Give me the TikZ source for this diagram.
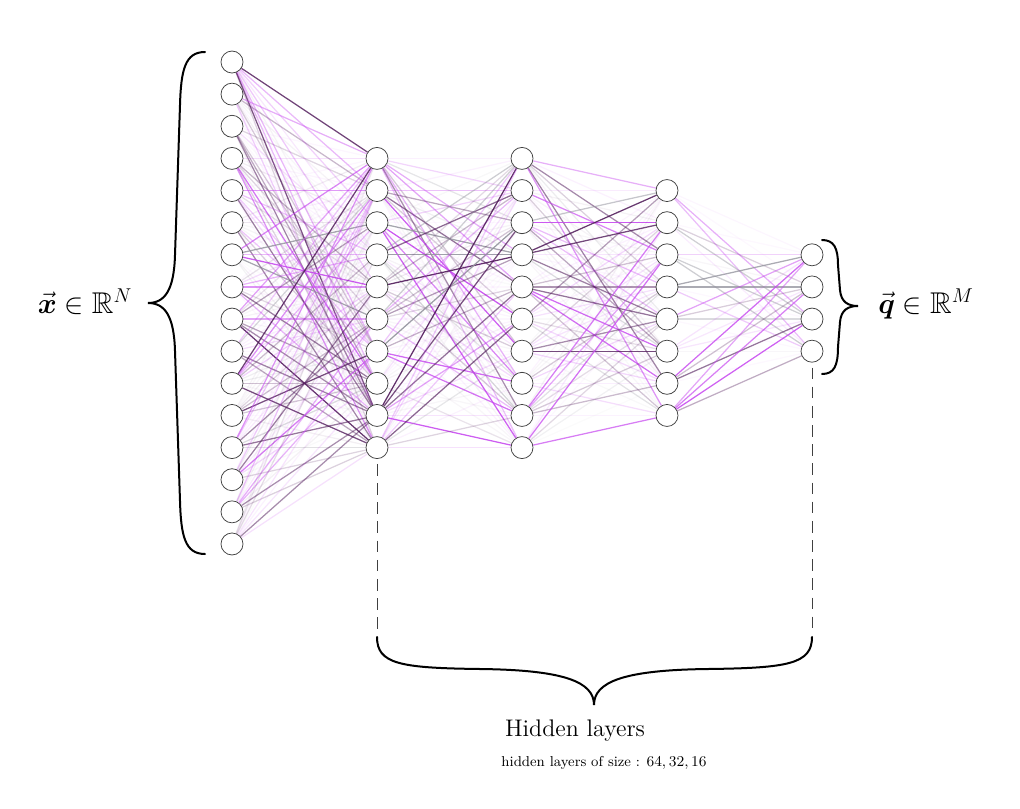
\documentclass[tikz,border=0pt]{standalone}
\usepackage{amsmath,amssymb}
\pgfdeclarelayer{bg}
\pgfsetlayers{bg,main}
\definecolor{col0}{RGB}{200,75,240}
\definecolor{col1}{RGB}{80,26,90}
\definecolor{col2}{RGB}{150,150,160}
\begin{document}
\begin{tikzpicture}[x=0.6pt,y=-0.6pt,
  neuron/.style={circle,draw=black!75,fill=white,line width=0.45pt,minimum size=13.2pt,inner sep=0pt},
  bracepath/.style={line width=1.2pt,line cap=round},
  dashline/.style={draw=black!75,line width=0.55pt,dash pattern=on 7pt off 4.5pt},
  edge/.style={line width=0.75pt}]
\useasboundingbox (0,0) rectangle (1020,809);
\def\sp{32.13}
% neurons
\foreach \l/\x/\n in {1/232/16,2/377/10,3/522/10,4/667/8,5/812/4}{
  \foreach \i in {1,...,\n}{
    \pgfmathsetmacro\yy{303+(\i-(\n+1)/2)*\sp}
    \node[neuron] (n\l-\i) at (\x,\yy) {};
  }
}
% connections
\pgfmathsetseed{11}
\begin{pgfonlayer}{bg}
\foreach \a/\na/\b/\nb in {1/16/2/10, 2/10/3/10, 3/10/4/8, 4/8/5/4}{
  \foreach \i in {1,...,\na}{
    \foreach \j in {1,...,\nb}{
      \pgfmathsetmacro\c{rnd}
      \pgfmathtruncatemacro\k{\c<0.47?0:(\c<0.85?1:2)}
      \pgfmathsetmacro\r{rnd}
      \pgfmathtruncatemacro\pct{4+90*\r*\r*sqrt(\r)}
      \draw[edge,draw=col\k,draw opacity=\pct/100] (n\a-\i) -- (n\b-\j);
    }
  }
}
\end{pgfonlayer}
% braces
\draw[bracepath] (205,52) .. controls (185,52) and (181,70) .. (180,105) -- (175,255) .. controls (174,290) and (165,303) .. (148,303) .. controls (165,303) and (174,316) .. (175,351) -- (180,501) .. controls (181,536) and (185,554) .. (205,554);
\draw[bracepath] (822,240) .. controls (834,240) and (838,248) .. (838,265) -- (840,290) .. controls (841,302) and (848,306) .. (858,306) .. controls (848,306) and (841,310) .. (840,322) -- (838,347) .. controls (838,366) and (834,374) .. (822,374);
\coordinate (bl) at (377,637);
\coordinate (br) at (812,637);
\draw[bracepath] (bl) .. controls (377,664) and (400,668) .. (480,669) .. controls (565,670) and (594,682) .. (594,705) .. controls (594,682) and (623,670) .. (708,669) .. controls (788,668) and (812,664) .. (br);
% dashed guides
\draw[dashline] ([yshift=-3pt]n2-10.south) -- (bl);
\draw[dashline] ([yshift=-3pt]n5-4.south) -- (br);
% labels
\node[anchor=base,font=\fontsize{18}{21}\selectfont] (xl) at (85,313) {$\vec{\boldsymbol{x}}\in\mathbb{R}^N$};
\node[anchor=base,font=\fontsize{18}{21}\selectfont] (ql) at (926,313) {$\vec{\boldsymbol{q}}\in\mathbb{R}^M$};
\node[anchor=base,font=\Large] (hl) at (575,736) {Hidden layers};
\node[anchor=base,font=\fontsize{8.6}{10}\selectfont] (hs) at (604,766) {hidden layers of size : $64, 32, 16$};
\end{tikzpicture}
\end{document}
